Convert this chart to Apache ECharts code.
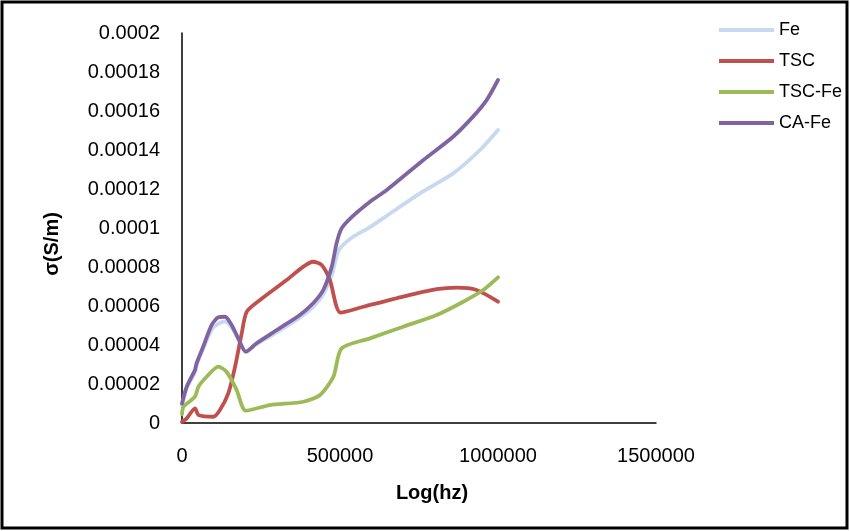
<!DOCTYPE html>
<html>
<head>
<meta charset="utf-8">
<script src="https://cdn.jsdelivr.net/npm/echarts@6/dist/echarts.min.js"></script>
<style>
  html, body { margin: 0; padding: 0; background: #fff; }
  #chart { width: 850px; height: 531px; }
</style>
</head>
<body>
<div id="chart"></div>
<script>
// 数据：[频率, 电导率]
const seriesNames = ['Fe', 'TSC', 'TSC-Fe', 'CA-Fe'];
const seriesColors = ['#C6D9F1', '#C0504D', '#9BBB59', '#8064A2'];

const feData = [
    [0, 0.000009], [15000, 0.000018], [41000, 0.000026], [47000, 0.000030], [67000, 0.000038],
    [94000, 0.000048], [115000, 0.000051], [136000, 0.000052], [157000, 0.000049], [178000, 0.000043],
    [202000, 0.0000365], [236000, 0.0000405], [300000, 0.0000465], [373000, 0.000054], [415000, 0.0000595],
    [447000, 0.000066], [474000, 0.000076], [492000, 0.000087], [505000, 0.0000905], [537000, 0.000095],
    [595000, 0.0001005], [650000, 0.0001065], [753000, 0.0001178], [858000, 0.000128], [943000, 0.00014],
    [1000000, 0.0001503]
];

const tscData = [
    [0, 0.0000005], [15000, 0.0000024], [41000, 0.0000075], [52000, 0.0000041], [99000, 0.0000032],
    [120000, 0.0000067], [146500, 0.0000152], [168000, 0.0000289], [189000, 0.000046], [205000, 0.0000571],
    [247000, 0.0000631], [331000, 0.0000733], [384000, 0.0000802], [415000, 0.0000827], [442000, 0.000081],
    [468000, 0.0000733], [502000, 0.0000566], [574000, 0.0000596], [700000, 0.0000648], [806000, 0.0000686],
    [869000, 0.0000694], [932000, 0.0000682], [1000000, 0.0000622]
];

const tscFeData = [
    [0, 0.0000045], [5000, 0.0000084], [41000, 0.0000135], [52000, 0.0000186], [78000, 0.0000237],
    [115000, 0.0000289], [141000, 0.0000263], [173000, 0.0000169], [202000, 0.0000063], [278000, 0.0000092],
    [384000, 0.0000109], [437000, 0.0000144], [479000, 0.0000237], [505000, 0.0000383], [595000, 0.0000434],
    [700000, 0.0000494], [806000, 0.0000554], [890000, 0.0000622], [953000, 0.0000682], [1000000, 0.0000747]
];

const caFeData = [
    [0, 0.0000100], [15000, 0.0000186], [41000, 0.0000272], [46000, 0.0000306], [67000, 0.0000391],
    [94000, 0.0000503], [115000, 0.0000542], [136000, 0.0000545], [157000, 0.0000503], [178000, 0.0000434],
    [202000, 0.0000366], [236000, 0.0000409], [300000, 0.0000477], [373000, 0.0000554], [415000, 0.0000614],
    [447000, 0.0000682], [474000, 0.0000802], [489000, 0.0000921], [505000, 0.0000998], [537000, 0.0001056],
    [595000, 0.0001135], [648000, 0.0001195], [764000, 0.0001349], [858000, 0.0001468], [921000, 0.0001571],
    [964000, 0.0001656], [1000000, 0.0001759]
];

const allData = [feData, tscData, tscFeData, caFeData];

const chart = echarts.init(document.getElementById('chart'));
chart.setOption({
    animation: false,
    textStyle: { fontFamily: 'Liberation Sans' },
    graphic: [{
        type: 'rect',
        shape: { x: 2, y: 2, width: 845, height: 526 },
        style: { fill: 'none', stroke: '#000', lineWidth: 3 }
    }],
    grid: { left: 182, top: 33, right: 194, bottom: 108 },
    legend: {
        orient: 'vertical',
        left: 719,
        top: 21,
        padding: 0,
        icon: 'rect',
        itemWidth: 55,
        itemHeight: 4,
        itemGap: 13,
        data: seriesNames,
        textStyle: { fontSize: 18, color: '#000' }
    },
    xAxis: {
        type: 'value',
        min: 0,
        max: 1500000,
        interval: 500000,
        name: 'Log(hz)',
        nameLocation: 'middle',
        nameGap: 60,
        nameTextStyle: { fontSize: 20, fontWeight: 'bold', color: '#000', padding: [0, 0, 0, 26] },
        axisLine: { lineStyle: { color: '#000', width: 1.5 } },
        axisTick: { show: false },
        splitLine: { show: false },
        axisLabel: {
            fontSize: 20,
            color: '#000',
            margin: 23,
            formatter: function (v) { return String(v); }
        }
    },
    yAxis: {
        type: 'value',
        min: 0,
        max: 0.0002,
        interval: 0.00002,
        name: 'σ(S/m)',
        nameLocation: 'middle',
        nameRotate: 90,
        nameGap: 120,
        nameTextStyle: { fontSize: 20, fontWeight: 'bold', color: '#000', padding: [0, 32, 0, 0] },
        axisLine: { show: true, lineStyle: { color: '#000', width: 1.5 } },
        axisTick: { show: false },
        splitLine: { show: false },
        axisLabel: {
            fontSize: 20,
            color: '#000',
            margin: 22,
            formatter: function (v) { return String(Number(v.toPrecision(6))); }
        }
    },
    series: seriesNames.map(function (name, i) {
        return {
            name: name,
            type: 'line',
            data: allData[i],
            smooth: 0.25,
            symbol: 'none',
            color: seriesColors[i],
            lineStyle: { width: 3.8, color: seriesColors[i], cap: 'round', join: 'round' }
        };
    })
});
</script>
</body>
</html>
